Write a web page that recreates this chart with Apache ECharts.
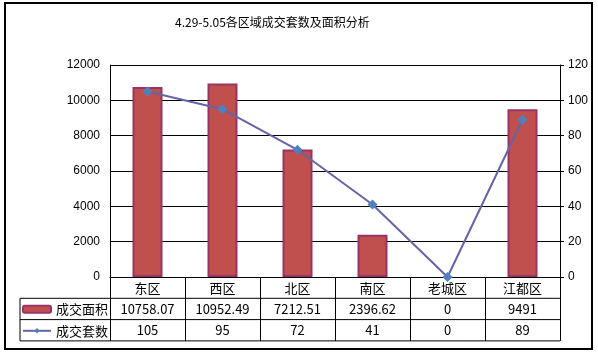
<!DOCTYPE html>
<html>
<head>
<meta charset="utf-8">
<script src="https://cdn.jsdelivr.net/npm/echarts@6/dist/echarts.min.js"></script>
<style>
  html, body { margin: 0; padding: 0; background: #fff; }
  #chart { width: 598px; height: 354px; }
</style>
</head>
<body>
<div id="chart"></div>
<script>
// 数据
const categories = ['东区', '西区', '北区', '南区', '老城区', '江都区']
const areaValues = [10758.07, 10952.49, 7212.51, 2396.62, 0, 9491]
const areaLabels = ['10758.07', '10952.49', '7212.51', '2396.62', '0', '9491']
const countValues = [105, 95, 72, 41, 0, 89]
const areaAxis = { min: 0, max: 12000, interval: 2000 }
const countAxis = { min: 0, max: 120, interval: 20 }

// 布局
const gridLeft = 110
const gridTop = 65
const gridWidth = 450
const gridHeight = 212
const rowH = 21.3
const tableLeft = 20
const gridBottomY = gridTop + gridHeight
const tableFont = '"Noto Sans CJK SC", sans-serif'

const chart = echarts.init(document.getElementById('chart'))

const hLine = (y, x1) => ({
  type: 'line',
  shape: { x1: x1, y1: y, x2: gridLeft + gridWidth, y2: y },
  style: { stroke: '#000', lineWidth: 1 },
  silent: true
})

// 值为0的柱子不画边框
const barData = areaValues.map(v => (v === 0 ? { value: v, itemStyle: { borderWidth: 0 } } : v))

const option = {
  animation: false,
  backgroundColor: '#fff',
  title: {
    text: '4.29-5.05各区域成交套数及面积分析',
    left: 170,
    top: 11,
    textStyle: {
      fontFamily: tableFont,
      fontSize: 12,
      fontWeight: 'normal',
      color: '#000'
    }
  },
  legend: {
    orient: 'vertical',
    left: tableLeft + 2,
    top: gridBottomY + rowH + 4,
    padding: 0,
    itemWidth: 28,
    itemHeight: 7,
    itemGap: 7.5,
    textStyle: { fontFamily: tableFont, fontSize: 13, lineHeight: 14, color: '#000' },
    data: ['成交面积', '成交套数']
  },
  grid: {
    left: gridLeft,
    top: gridTop,
    width: gridWidth,
    height: gridHeight
  },
  xAxis: {
    type: 'category',
    data: categories,
    axisLine: { lineStyle: { color: '#000', width: 1 } },
    axisTick: { show: true, length: rowH * 3, lineStyle: { color: '#000' } },
    axisLabel: {
      margin: 0,
      interval: 0,
      formatter: (value, idx) =>
        `{a|${value}}\n{a|${areaLabels[idx]}}\n{a|${countValues[idx]}}`,
      rich: {
        a: {
          fontFamily: tableFont,
          fontSize: 13,
          color: '#000',
          lineHeight: rowH,
          align: 'center'
        }
      }
    }
  },
  yAxis: [
    {
      type: 'value',
      min: areaAxis.min,
      max: areaAxis.max,
      interval: areaAxis.interval,
      axisLine: { show: true, lineStyle: { color: '#000' } },
      axisTick: { show: false },
      axisLabel: {
        margin: 10,
        formatter: v => String(v),
        fontFamily: 'Liberation Sans, Arial, sans-serif',
        fontSize: 12,
        color: '#000'
      },
      splitLine: { show: true, lineStyle: { color: '#000', width: 1 } }
    },
    {
      type: 'value',
      min: countAxis.min,
      max: countAxis.max,
      interval: countAxis.interval,
      position: 'right',
      axisLine: { show: true, lineStyle: { color: '#000' } },
      axisTick: { show: true, length: 4, lineStyle: { color: '#000' } },
      axisLabel: {
        margin: 8,
        formatter: v => String(v),
        fontFamily: 'Liberation Sans, Arial, sans-serif',
        fontSize: 12,
        color: '#000'
      },
      splitLine: { show: false }
    }
  ],
  series: [
    {
      name: '成交面积',
      type: 'bar',
      data: barData,
      barWidth: 30,
      itemStyle: {
        color: '#C0504D',
        borderColor: '#993366',
        borderWidth: 2
      }
    },
    {
      name: '成交套数',
      type: 'line',
      yAxisIndex: 1,
      data: countValues,
      symbol: 'diamond',
      symbolSize: 10,
      lineStyle: { color: '#6464A6', width: 2 },
      itemStyle: { color: '#4F81BD' }
    }
  ],
  graphic: [
    // 外框
    {
      type: 'rect',
      shape: { x: 5, y: 3, width: 587, height: 346 },
      style: { fill: 'none', stroke: '#000', lineWidth: 2 },
      silent: true
    },
    // 数据表格线
    hLine(gridBottomY + rowH, tableLeft),
    hLine(gridBottomY + rowH * 2, tableLeft),
    hLine(gridBottomY + rowH * 3, tableLeft),
    {
      type: 'line',
      shape: { x1: tableLeft, y1: gridBottomY + rowH, x2: tableLeft, y2: gridBottomY + rowH * 3 },
      style: { stroke: '#000', lineWidth: 1 },
      silent: true
    }
  ]
}

chart.setOption(option)
</script>
</body>
</html>
